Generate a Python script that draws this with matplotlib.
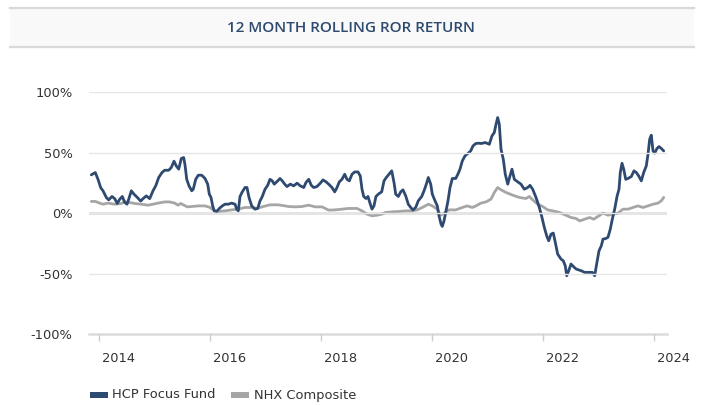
import matplotlib
matplotlib.use("Agg")
import matplotlib.pyplot as plt
from matplotlib.patches import Rectangle
from matplotlib.lines import Line2D
from matplotlib.transforms import ScaledTranslation

plt.rcParams['font.family'] = ['DejaVu Sans']

title = "12 MONTH ROLLING ROR RETURN"
series_names = ["HCP Focus Fund", "NHX Composite"]

fund_years = [2013.861, 2013.933, 2013.982, 2014.031, 2014.072, 2014.132, 2014.175, 2014.234, 2014.283, 2014.330,
              2014.373, 2014.420, 2014.463, 2014.505, 2014.536, 2014.583, 2014.631, 2014.691, 2014.752, 2014.794,
              2014.853, 2014.914, 2014.974, 2015.023, 2015.077, 2015.136, 2015.185, 2015.257, 2015.304, 2015.353,
              2015.394, 2015.437, 2015.484, 2015.527, 2015.551, 2015.582, 2015.623, 2015.672, 2015.700, 2015.744,
              2015.791, 2015.852, 2015.912, 2015.960, 2015.989, 2016.020, 2016.050, 2016.079, 2016.123, 2016.170,
              2016.224, 2016.272, 2016.332, 2016.393, 2016.453, 2016.483, 2016.512, 2016.543, 2016.584, 2016.633,
              2016.669, 2016.705, 2016.754, 2016.813, 2016.862, 2016.903, 2016.945, 2016.994, 2017.042, 2017.084,
              2017.125, 2017.161, 2017.223, 2017.264, 2017.306, 2017.349, 2017.390, 2017.450, 2017.511, 2017.571,
              2017.630, 2017.692, 2017.733, 2017.782, 2017.829, 2017.872, 2017.931, 2017.991, 2018.040, 2018.094,
              2018.142, 2018.202, 2018.251, 2018.292, 2018.334, 2018.382, 2018.431, 2018.472, 2018.514, 2018.563,
              2018.611, 2018.671, 2018.712, 2018.743, 2018.774, 2018.815, 2018.851, 2018.893, 2018.923, 2018.959,
              2018.995, 2019.044, 2019.098, 2019.140, 2019.181, 2019.230, 2019.279, 2019.320, 2019.351, 2019.398,
              2019.441, 2019.482, 2019.531, 2019.578, 2019.621, 2019.663, 2019.711, 2019.758, 2019.820, 2019.861,
              2019.903, 2019.939, 2019.982, 2020.011, 2020.060, 2020.101, 2020.132, 2020.168, 2020.191, 2020.222,
              2020.253, 2020.294, 2020.330, 2020.372, 2020.433, 2020.480, 2020.510, 2020.552, 2020.601, 2020.660,
              2020.703, 2020.745, 2020.793, 2020.853, 2020.889, 2020.967, 2021.039, 2021.087, 2021.129, 2021.160,
              2021.190, 2021.219, 2021.250, 2021.291, 2021.327, 2021.371, 2021.412, 2021.448, 2021.490, 2021.551,
              2021.610, 2021.670, 2021.731, 2021.773, 2021.821, 2021.881, 2021.941, 2021.989, 2022.031, 2022.074,
              2022.110, 2022.152, 2022.193, 2022.229, 2022.272, 2022.332, 2022.373, 2022.409, 2022.435, 2022.471,
              2022.512, 2022.572, 2022.608, 2022.698, 2022.759, 2022.837, 2022.897, 2022.940, 2022.969, 2023.017,
              2023.059, 2023.089, 2023.138, 2023.179, 2023.221, 2023.257, 2023.300, 2023.342, 2023.378, 2023.401,
              2023.432, 2023.463, 2023.499, 2023.540, 2023.600, 2023.648, 2023.690, 2023.733, 2023.780, 2023.823,
              2023.870, 2023.901, 2023.931, 2023.960, 2023.991, 2024.021, 2024.063, 2024.099, 2024.141, 2024.184]
fund_values = [31.7, 33.6, 28.0, 21.0, 18.5, 13.0, 11.0, 13.8, 12.0, 8.0,
               11.5, 13.8, 9.0, 7.4, 11.5, 18.5, 15.7, 13.0, 10.0, 12.0,
               14.3, 12.0, 18.5, 22.6, 29.5, 33.6, 35.5, 35.5, 37.8, 43.0,
               39.0, 36.4, 45.2, 46.0, 40.0, 28.0, 22.6, 18.5, 19.8, 28.0,
               31.4, 31.4, 28.7, 24.0, 15.7, 13.0, 6.0, 1.9, 1.4, 3.9,
               6.0, 7.4, 7.4, 8.3, 7.4, 3.3, 1.9, 13.8, 17.6, 21.2,
               21.2, 13.0, 6.0, 3.3, 3.9, 10.0, 13.8, 19.8, 23.0, 28.0,
               26.7, 24.0, 26.7, 28.7, 26.7, 24.0, 22.0, 24.0, 22.6, 24.8,
               22.6, 21.2, 25.4, 28.0, 23.0, 21.2, 22.0, 24.8, 27.5, 25.9,
               24.0, 21.2, 17.6, 21.2, 25.9, 28.0, 32.2, 28.0, 26.7, 32.2,
               34.1, 34.1, 30.8, 19.8, 13.8, 12.1, 13.8, 7.4, 3.3, 6.0,
               13.8, 16.0, 17.6, 26.7, 29.5, 32.2, 35.0, 25.4, 15.7, 13.8,
               17.6, 19.3, 14.3, 7.4, 4.7, 2.7, 4.7, 10.2, 13.8, 18.4,
               24.0, 29.5, 24.0, 15.7, 10.2, 6.0, -2.2, -9.0, -11.0, -6.4,
               0.6, 10.2, 21.2, 28.7, 28.7, 33.0, 36.4, 43.2, 47.4, 49.6,
               51.5, 55.6, 57.6, 57.9, 57.6, 58.4, 57.0, 63.9, 66.7, 73.6,
               79.1, 73.6, 52.9, 44.6, 32.2, 24.0, 30.8, 36.4, 28.0, 25.9,
               24.0, 19.8, 21.2, 23.0, 19.8, 13.0, 4.7, -3.6, -11.8, -18.8,
               -22.9, -17.4, -16.5, -24.2, -33.9, -38.0, -39.4, -43.6, -51.8, -47.7,
               -42.1, -44.9, -46.3, -47.7, -49.0, -49.0, -49.0, -51.8, -43.6, -31.2,
               -27.0, -21.5, -21.0, -20.0, -13.2, -5.0, 3.3, 13.8, 19.8, 33.6,
               41.3, 36.4, 28.0, 28.7, 30.3, 35.0, 33.6, 30.8, 26.7, 33.6,
               39.1, 48.8, 61.2, 64.5, 51.5, 49.6, 53.5, 55.1, 53.5, 51.5]

index_years = [2013.861, 2013.933, 2014.013, 2014.072, 2014.162, 2014.283, 2014.402, 2014.463, 2014.554, 2014.644,
               2014.763, 2014.884, 2014.974, 2015.064, 2015.185, 2015.275, 2015.365, 2015.425, 2015.473, 2015.533,
               2015.592, 2015.672, 2015.791, 2015.912, 2016.002, 2016.079, 2016.151, 2016.272, 2016.393, 2016.512,
               2016.633, 2016.754, 2016.844, 2016.963, 2017.084, 2017.234, 2017.354, 2017.421, 2017.540, 2017.661,
               2017.782, 2017.901, 2018.022, 2018.142, 2018.261, 2018.382, 2018.503, 2018.653, 2018.743, 2018.833,
               2018.923, 2019.013, 2019.104, 2019.170, 2019.289, 2019.410, 2019.531, 2019.650, 2019.740, 2019.830,
               2019.939, 2020.011, 2020.101, 2020.162, 2020.222, 2020.312, 2020.433, 2020.552, 2020.642, 2020.732,
               2020.799, 2020.853, 2020.889, 2020.979, 2021.069, 2021.129, 2021.190, 2021.250, 2021.340, 2021.461,
               2021.580, 2021.700, 2021.760, 2021.821, 2021.911, 2022.001, 2022.091, 2022.182, 2022.301, 2022.422,
               2022.512, 2022.602, 2022.669, 2022.759, 2022.849, 2022.921, 2022.999, 2023.089, 2023.179, 2023.270,
               2023.360, 2023.450, 2023.540, 2023.630, 2023.720, 2023.811, 2023.901, 2023.991, 2024.081, 2024.141,
               2024.184]
index_values = [9.7, 9.7, 8.3, 7.4, 8.3, 7.4, 8.0, 9.3, 8.8, 8.0,
                7.4, 6.6, 7.4, 8.3, 9.3, 9.3, 8.3, 6.6, 8.0, 6.6,
                5.2, 5.5, 6.0, 6.0, 4.7, 1.9, 1.4, 1.9, 2.7, 3.3,
                4.7, 4.7, 3.9, 5.5, 6.9, 6.9, 6.0, 5.5, 5.2, 5.5,
                6.6, 5.2, 5.2, 2.5, 2.7, 3.3, 3.9, 3.9, 1.9, -0.8,
                -2.2, -1.7, -0.8, 0.6, 1.1, 1.4, 1.9, 1.9, 2.7, 4.7,
                7.4, 6.0, 3.3, -1.7, 0.0, 2.7, 2.7, 4.7, 6.0, 4.7,
                6.0, 7.4, 8.3, 9.3, 11.6, 17.1, 21.2, 19.3, 17.1, 14.9,
                13.0, 12.1, 13.8, 11.0, 7.4, 5.5, 2.7, 1.9, 0.6, -1.7,
                -3.6, -4.4, -6.4, -5.0, -3.6, -5.0, -2.7, 0.0, -1.7, -0.8,
                0.0, 3.3, 3.3, 4.7, 6.0, 4.7, 6.0, 7.4, 8.3, 10.2,
                13.0]

x_ticks = [2014, 2016, 2018, 2020, 2022, 2024]
y_ticks = [-100, -50, 0, 50, 100]
y_tick_labels = ["-100%", "-50%", "0%", "50%", "100%"]

fund_color = "#2f4a70"
index_color = "#a6a6a6"
text_color = "#333333"
grid_color = "#e6e6e6"

W, H = 703, 405
fig = plt.figure(figsize=(W / 100, H / 100), dpi=100)
fig.patch.set_facecolor("white")

# Title bar
fig.add_artist(Rectangle((10 / W, 1 - 47 / H), (694 - 10) / W, 39 / H,
                         transform=fig.transFigure, facecolor="#f9f9f9", edgecolor="none", zorder=0))
for yy in (8, 47):
    fig.add_artist(Line2D([10 / W, 694 / W], [1 - yy / H, 1 - yy / H], transform=fig.transFigure,
                          color="#d9d9d9", lw=1.6))
fig.text(351 / W, 1 - 28 / H, title, ha="center", va="center", color="#2e4a6e",
         fontsize=11, fontweight="semibold", family=["Open Sans", "DejaVu Sans"])

left, right, top, bottom = 89.3, 666.7, 92.3, 334
ax = fig.add_axes([left / W, 1 - bottom / H, (right - left) / W, (bottom - top) / H])

ax.plot(fund_years, fund_values, color=fund_color, lw=2.0, solid_joinstyle="round",
        solid_capstyle="round", zorder=2)
ax.plot(index_years, index_values, color=index_color, lw=2.0, solid_joinstyle="round",
        solid_capstyle="round", zorder=1.9)

ax.set_xlim(2014 + (left - 99) / 55.45, 2014 + (right - 99) / 55.45)
ax.set_ylim(-100, 100)

ax.set_yticks(y_ticks)
ax.set_yticklabels(y_tick_labels)
ax.set_xticks(x_ticks)
ax.set_xticklabels([str(t) for t in x_ticks])

for s in ax.spines.values():
    s.set_visible(False)

ax.grid(axis="y", color=grid_color, lw=1.0)
ax.set_axisbelow(False)
ax.axhline(0, color="#dcdcdc", lw=1.8, zorder=1.5)
ax.axhline(-100, color="#dcdcdc", lw=1.8, zorder=1.5, clip_on=False)

ax.tick_params(axis="y", length=0, pad=12, labelsize=9.4, labelcolor=text_color)
ax.tick_params(axis="x", length=5, width=1, color="#cccccc", pad=8, labelsize=9.4,
               labelcolor=text_color)
offset = ScaledTranslation(3 / 100, 0, fig.dpi_scale_trans)
for lab in ax.get_xticklabels():
    lab.set_horizontalalignment("left")
    lab.set_transform(lab.get_transform() + offset)

# Legend
ly = 1 - 395 / H
for (x0, x1, tx, name, col) in [(90, 108, 112, series_names[0], fund_color),
                                (231, 249, 254, series_names[1], index_color)]:
    fig.add_artist(Rectangle((x0 / W, ly - 3 / H), (x1 - x0) / W, 6 / H, transform=fig.transFigure,
                             facecolor=col, edgecolor="none"))
    fig.text(tx / W, ly, name, ha="left", va="center", fontsize=9.4, color=text_color)

fig.savefig("out.png", dpi=100, facecolor="white")
